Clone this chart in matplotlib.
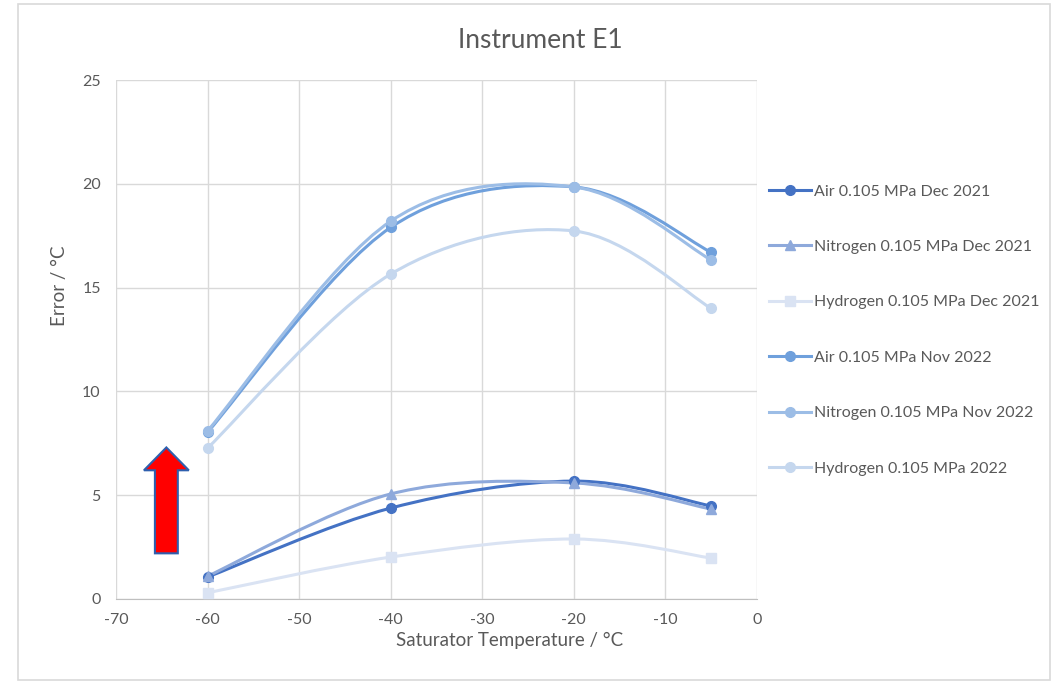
import numpy as np
import matplotlib
matplotlib.use("Agg")
from matplotlib import pyplot as plt
from matplotlib.path import Path
from matplotlib.patches import PathPatch, FancyArrow, Rectangle
from matplotlib.lines import Line2D

plt.rcParams['font.family'] = ['Lato', 'DejaVu Sans']
plt.rcParams['axes.unicode_minus'] = False

temps = [-60, -40, -20, -5]
air_2021 = [1.06, 4.38, 5.68, 4.48]
nitrogen_2021 = [1.10, 5.06, 5.59, 4.33]
hydrogen_2021 = [0.30, 2.02, 2.89, 1.97]
air_2022 = [8.04, 17.9, 19.85, 16.7]
nitrogen_2022 = [8.10, 18.2, 19.85, 16.33]
hydrogen_2022 = [7.27, 15.65, 17.73, 14.0]

series = [
    ("Air 0.105 MPa Dec 2021", air_2021, "#4472C4", "o"),
    ("Nitrogen 0.105 MPa Dec 2021", nitrogen_2021, "#8EA9DB", "^"),
    ("Hydrogen 0.105 MPa Dec 2021", hydrogen_2021, "#DAE3F3", "s"),
    ("Air 0.105 MPa Nov 2022", air_2022, "#6FA0DC", "o"),
    ("Nitrogen 0.105 MPa Nov 2022", nitrogen_2022, "#9CBDE6", "o"),
    ("Hydrogen 0.105 MPa 2022", hydrogen_2022, "#C5D7EE", "o"),
]


def smooth_path(xs, ys):
    # excel style smoothed line: bezier segments through the points
    pts = np.column_stack([xs, ys]).astype(float)
    n = len(pts)
    verts = [pts[0]]
    codes = [Path.MOVETO]
    for i in range(n - 1):
        p0 = pts[i - 1] if i > 0 else pts[i]
        p1 = pts[i]
        p2 = pts[i + 1]
        p3 = pts[i + 2] if i + 2 < n else pts[i + 1]
        c1 = p1 + (p2 - p0) / 6
        c2 = p2 - (p3 - p1) / 6
        verts += [c1, c2, p2]
        codes += [Path.CURVE4] * 3
    return Path(verts, codes)


fig = plt.figure(figsize=(10.56, 6.84), dpi=100)
ax = fig.add_axes([116 / 1056, 1 - 599 / 684, (757 - 116) / 1056, (599 - 80) / 684])

# chart frame
fig.patches.append(Rectangle((18 / 1056, 4 / 684), 1032 / 1056, 676 / 684,
                             transform=fig.transFigure, fill=False,
                             edgecolor="#d9d9d9", linewidth=1.2))

handles = []
for label, vals, color, marker in series:
    ax.add_patch(PathPatch(smooth_path(temps, vals), fill=False,
                           edgecolor=color, linewidth=2.2, zorder=3))
    ax.plot(temps, vals, linestyle="none", marker=marker, markersize=7,
            color=color, zorder=4)
    handles.append(Line2D([], [], color=color, linewidth=2.2, marker=marker,
                          markersize=7, label=label))

ax.set_xlim(-70, 0)
ax.set_ylim(0, 25)
ax.set_xticks(range(-70, 1, 10))
ax.set_yticks(range(0, 26, 5))
ax.grid(True, color="#d9d9d9", linewidth=1)
ax.set_axisbelow(True)
for s in ["top", "right", "left"]:
    ax.spines[s].set_visible(False)
ax.spines["bottom"].set_color("#bfbfbf")
ax.tick_params(length=0, labelsize=11.5, colors="#595959")
ax.tick_params(axis="x", pad=10)
ax.tick_params(axis="y", pad=11)

fig.text(510 / 1056, 1 - 640 / 684, "Saturator Temperature / °C", ha="center",
         va="center", fontsize=13.5, color="#595959")
fig.text(60 / 1056, 1 - 286 / 684, "Error / °C", ha="center", va="center",
         rotation=90, fontsize=13.5, color="#595959")
fig.text(540 / 1056, 1 - 40 / 684, "Instrument E1", ha="center", va="center",
         fontsize=19, color="#595959")

ax.add_patch(FancyArrow(-64.5, 2.2, 0, 5.1, width=2.5, head_width=4.9,
                        head_length=1.1, length_includes_head=True,
                        facecolor="#ff0000", edgecolor="#2e5fae",
                        linewidth=1.5, zorder=5, clip_on=False))

leg = fig.legend(handles=handles, loc="upper left",
                 bbox_to_anchor=(755 / 1056, 1 - 170 / 684),
                 frameon=False, fontsize=11.5, labelspacing=2.58,
                 handlelength=2.6, handletextpad=0.2)
for t in leg.get_texts():
    t.set_color("#595959")

fig.savefig("out.png", dpi=100)
